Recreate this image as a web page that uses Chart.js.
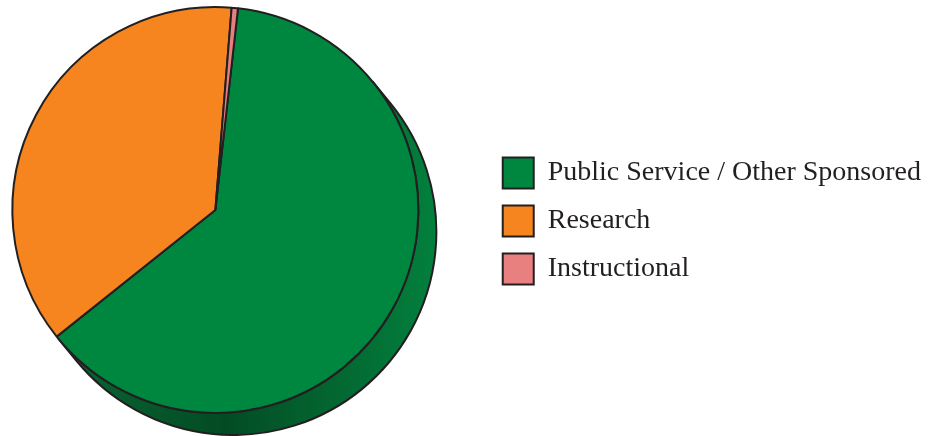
<!DOCTYPE html>
<html>
<head>
<meta charset="utf-8">
<script src="https://cdn.jsdelivr.net/npm/chart.js@4/dist/chart.umd.min.js"></script>
<style>
  html, body { margin: 0; padding: 0; background: #fff; }
  #wrap { width: 937px; height: 436px; position: relative; overflow: hidden; }
  #inner { position: absolute; left: -55px; top: 0; width: 986px; height: 436px; }
</style>
</head>
<body>
<div id="wrap"><div id="inner"><canvas id="pieChart"></canvas></div></div>
<script>
// data (share of total, %)
const categorias = ["Public Service / Other Sponsored", "Research", "Instructional"];
const valores = [62.5, 37.0, 0.5];
const colores = ["#00873f", "#f6851f", "#e8807f"];

// =========================
// LADO 3D (canto del pastel)
// =========================
const depthPlugin = {
    id: "depth",
    beforeDatasetsDraw(chart) {
        const arc = chart.getDatasetMeta(0).data[0];
        if (!arc) return;
        const { x, y, outerRadius } = arc.getProps(["x", "y", "outerRadius"], true);
        const r = outerRadius;
        const dx = 18, dy = 22;
        const t = Math.atan2(dy, dx);
        const a1 = t - Math.PI / 2, a2 = t + Math.PI / 2;
        const ctx = chart.ctx;

        const grad = ctx.createLinearGradient(x - r, 0, x + r + dx, 0);
        grad.addColorStop(0, "#0a6e36");
        grad.addColorStop(0.5, "#034b24");
        grad.addColorStop(1, "#03803d");

        ctx.save();
        ctx.beginPath();
        ctx.moveTo(x + r * Math.cos(a1), y + r * Math.sin(a1));
        ctx.lineTo(x + dx + r * Math.cos(a1), y + dy + r * Math.sin(a1));
        ctx.arc(x + dx, y + dy, r, a1, a2);
        ctx.lineTo(x + r * Math.cos(a2), y + r * Math.sin(a2));
        ctx.arc(x, y, r, a2, a1, true);
        ctx.closePath();
        ctx.fillStyle = grad;
        ctx.fill();
        ctx.lineWidth = 2;
        ctx.strokeStyle = "#231f20";
        ctx.stroke();
        ctx.restore();
    }
};

new Chart(document.getElementById("pieChart"), {
    type: "pie",
    data: {
        labels: categorias,
        datasets: [{
            data: valores,
            backgroundColor: colores,
            borderColor: "#231f20",
            borderWidth: 2
        }]
    },
    options: {
        responsive: true,
        maintainAspectRatio: false,
        animation: false,
        rotation: 6.4,
        layout: { padding: { left: 0, top: 6, bottom: 22, right: 0 } },
        plugins: {
            tooltip: { enabled: false },
            legend: {
                position: "right",
                align: "center",
                title: { display: true, text: "", padding: 0, font: { size: 22, lineHeight: 1 } },
                labels: {
                    boxWidth: 31,
                    boxHeight: 31,
                    padding: 17,
                    color: "#231f20",
                    font: { family: "'Liberation Serif', 'DejaVu Serif', serif", size: 28 }
                }
            }
        }
    },
    plugins: [depthPlugin]
});
</script>
</body>
</html>
